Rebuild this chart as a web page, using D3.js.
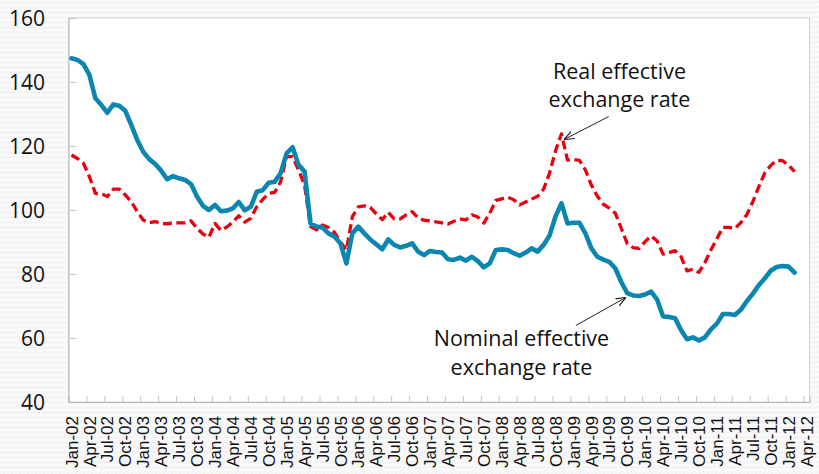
<!DOCTYPE html>
<html>
<head>
<meta charset="utf-8">
<script src="https://cdn.jsdelivr.net/npm/d3@7"></script>
<style>
  body { margin: 0; background: #fff; }
  svg { display: block; }
  .ylab { font-family: "Open Sans", sans-serif; font-size: 21px; fill: #111; }
  .xlab { font-family: "Liberation Sans", Arial, sans-serif; font-size: 17px; fill: #111; }
  .note { font-family: "Open Sans", sans-serif; font-size: 21.5px; fill: #111; }
</style>
</head>
<body>
<svg width="819" height="474"></svg>
<script>
// monthly categories Jan-02 .. Apr-12 (axis runs one month past the data)
var monthNames = ["Jan","Feb","Mar","Apr","May","Jun","Jul","Aug","Sep","Oct","Nov","Dec"];
var startYear = 2002, nMonths = 124;
var categories = [];
for (var k = 0; k < nMonths; k++) {
  var yy = startYear + Math.floor(k / 12);
  categories.push(monthNames[k % 12] + "-" + String(yy).slice(2));
}
var labelEvery = 3;
var yTicks = [40, 60, 80, 100, 120, 140, 160];

// Nominal effective exchange rate, Jan-02 .. Feb-12
var nominal = [
  147.4, 146.9, 145.6, 142.2, 134.9, 132.8, 130.4, 133.0, 132.6, 131.0, 126.6, 121.9,
  118.2, 115.9, 114.4, 112.3, 109.6, 110.6, 109.9, 109.4, 108.1, 104.2, 101.3, 100.0,
  101.6, 99.6, 99.8, 100.5, 102.5, 99.9, 101.0, 105.7, 106.2, 108.5, 108.8, 111.5,
  117.7, 119.6, 114.1, 112.0, 95.8, 94.8, 94.5, 92.7, 91.7, 89.6, 83.3, 92.7,
  94.8, 92.7, 90.8, 89.3, 87.7, 90.8, 89.1, 88.3, 88.8, 89.6, 87.0, 85.9,
  87.2, 86.9, 86.7, 84.6, 84.4, 85.1, 84.2, 85.4, 84.0, 82.1, 83.3, 87.5,
  87.7, 87.5, 86.5, 85.7, 86.7, 88.0, 87.0, 89.1, 92.0, 98.0, 102.1, 95.8,
  96.0, 96.0, 92.7, 88.0, 85.4, 84.5, 83.8, 81.8, 77.5, 74.0, 73.3, 73.1,
  73.6, 74.5, 72.0, 66.7, 66.6, 66.2, 62.5, 59.6, 60.2, 59.2, 60.2, 62.7,
  64.5, 67.5, 67.5, 67.2, 68.8, 71.5, 73.8, 76.5, 78.6, 81.0, 82.2, 82.5,
  82.3, 80.4
];

// Real effective exchange rate, Jan-02 .. Feb-12
var real = [
  117.2, 116.1, 114.6, 110.4, 105.2, 105.1, 104.2, 106.5, 106.5, 104.7, 102.6, 99.5,
  96.9, 96.0, 96.4, 95.8, 95.7, 96.0, 96.0, 96.0, 96.6, 94.3, 92.5, 91.5,
  95.8, 93.6, 94.7, 96.2, 98.2, 96.2, 97.4, 101.0, 103.3, 105.2, 105.5, 108.8,
  116.7, 116.7, 112.5, 107.8, 94.8, 93.8, 95.3, 94.5, 93.0, 90.0, 87.5, 97.9,
  101.0, 101.3, 100.8, 98.8, 97.0, 99.3, 97.2, 97.2, 98.5, 99.5, 97.5, 96.8,
  96.6, 96.3, 96.0, 95.6, 96.5, 97.2, 96.9, 98.5, 97.8, 95.9, 99.0, 103.0,
  103.5, 104.0, 103.2, 101.6, 102.5, 103.4, 104.3, 106.5, 111.5, 118.5, 123.8, 115.6,
  115.8, 115.5, 112.5, 107.8, 104.3, 101.8, 100.6, 99.0, 94.3, 89.5, 88.2, 88.0,
  90.1, 91.9, 90.3, 86.2, 86.7, 87.3, 85.4, 81.0, 81.5, 80.5, 83.6, 87.5,
  91.0, 94.6, 94.6, 94.2, 96.0, 98.5, 102.5, 107.2, 111.5, 113.9, 115.5, 115.4,
  114.0, 112.0
];

// annotations in data units (month index, value)
var notes = [
  { lines: ["Real effective", "exchange rate"], tx: 92.2, ty: [140.9, 132.2],
    from: [90.4, 129.2], to: [83.0, 122.1] },
  { lines: ["Nominal effective", "exchange rate"], tx: 75.8, ty: [57.5, 48.4],
    from: [84.9, 63.9], to: [93.2, 72.6] }
];

var svg = d3.select("svg"),
    width = +svg.attr("width"),
    height = +svg.attr("height");

var plot = {left: 68.5, right: 809.5, top: 18, bottom: 402};

var x = d3.scaleLinear().domain([0, nMonths]).range([plot.left, plot.right]);
var xBand = d3.scaleBand().domain(categories).range([plot.left, plot.right]);
var y = d3.scaleLinear().domain([40, 160]).range([plot.bottom, plot.top]);

// textured background around the plot area
var defs = svg.append("defs");
var pat = defs.append("pattern")
    .attr("id", "bgpat")
    .attr("patternUnits", "userSpaceOnUse")
    .attr("width", 8)
    .attr("height", 5);
pat.append("rect").attr("width", 8).attr("height", 5).attr("fill", "#fafafa");
pat.append("path")
    .attr("d", "M0,3.5 L2,1.5 L4,3.5 L6,1.5 L8,3.5")
    .attr("fill", "none")
    .attr("stroke", "#e6e6e6")
    .attr("stroke-width", 0.8);

defs.append("marker")
    .attr("id", "arrow")
    .attr("viewBox", "0 0 10 10")
    .attr("refX", 9.5)
    .attr("refY", 5)
    .attr("markerUnits", "userSpaceOnUse")
    .attr("markerWidth", 10)
    .attr("markerHeight", 10)
    .attr("orient", "auto")
  .append("path")
    .attr("d", "M0,1 L10,5 L0,9")
    .attr("fill", "none")
    .attr("stroke", "#222")
    .attr("stroke-width", 1.2);

svg.append("rect")
    .attr("width", width)
    .attr("height", height)
    .attr("fill", "url(#bgpat)");

svg.append("rect")
    .attr("x", plot.left)
    .attr("y", plot.top)
    .attr("width", plot.right - plot.left)
    .attr("height", plot.bottom - plot.top)
    .attr("fill", "#fff")
    .attr("stroke", "#d4d4d4")
    .attr("stroke-width", 1);

// y axis
var yAxis = d3.axisRight(y)
    .tickValues(yTicks)
    .tickSize(8)
    .tickFormat("");

var gy = svg.append("g")
    .attr("transform", "translate(" + plot.left + ",0)")
    .call(yAxis);
gy.select(".domain").attr("stroke", "#b8b8b8");
gy.selectAll(".tick line").attr("stroke", "#c4c4c4");

svg.append("g").selectAll("text")
    .data(yTicks)
  .enter().append("text")
    .attr("class", "ylab")
    .attr("x", 45)
    .attr("y", function(d) { return y(d); })
    .attr("dy", "0.36em")
    .style("text-anchor", "end")
    .text(function(d) { return d; });

// x axis: tick marks between label groups, labels at category centres
var boundaries = d3.range(labelEvery, nMonths, labelEvery);
var xAxis = d3.axisTop(x)
    .tickValues(boundaries)
    .tickSize(6)
    .tickFormat("");

var gx = svg.append("g")
    .attr("transform", "translate(0," + plot.bottom + ")")
    .call(xAxis);
gx.select(".domain").attr("stroke", "#b8b8b8");
gx.selectAll(".tick line").attr("stroke", "#c4c4c4");

var labelCats = categories.filter(function(d, i) { return i % labelEvery === 0; });

svg.append("g").selectAll("text")
    .data(labelCats)
  .enter().append("text")
    .attr("class", "xlab")
    .attr("transform", function(d) {
      return "translate(" + (xBand(d) + xBand.bandwidth() / 2) + "," + (plot.bottom + 14) + ") rotate(-90)";
    })
    .attr("dy", "0.36em")
    .style("text-anchor", "end")
    .text(function(d) { return d; });

// series
var line = d3.line()
    .x(function(d, i) { return x(i + 0.5); })
    .y(function(d) { return y(d); });

svg.append("path")
    .datum(real)
    .attr("fill", "none")
    .attr("stroke", "#e8000e")
    .attr("stroke-width", 3.3)
    .attr("stroke-dasharray", "9,4.5")
    .attr("stroke-linejoin", "round")
    .attr("d", line);

svg.append("path")
    .datum(nominal)
    .attr("fill", "none")
    .attr("stroke", "#0b86b0")
    .attr("stroke-width", 4.6)
    .attr("stroke-linejoin", "round")
    .attr("stroke-linecap", "round")
    .attr("d", line);

// annotations
notes.forEach(function(n) {
  n.lines.forEach(function(t, j) {
    svg.append("text")
        .attr("class", "note")
        .attr("x", x(n.tx))
        .attr("y", y(n.ty[j]))
        .style("text-anchor", "middle")
        .text(t);
  });
  svg.append("line")
      .attr("x1", x(n.from[0]))
      .attr("y1", y(n.from[1]))
      .attr("x2", x(n.to[0]))
      .attr("y2", y(n.to[1]))
      .attr("stroke", "#222")
      .attr("stroke-width", 1)
      .attr("marker-end", "url(#arrow)");
});
</script>
</body>
</html>
